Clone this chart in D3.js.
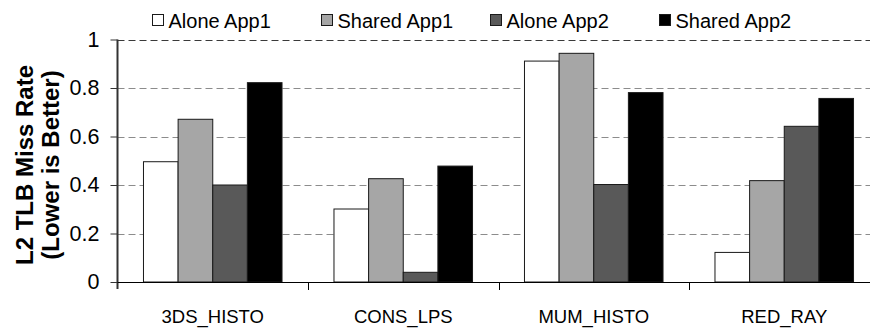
<!DOCTYPE html>
<html>
<head>
<meta charset="utf-8">
<script src="https://cdn.jsdelivr.net/npm/d3@7"></script>
<style>
  html, body { margin: 0; padding: 0; background: #fff; }
  svg { display: block; font-family: "Liberation Sans", Arial, sans-serif; }
</style>
</head>
<body>
<svg id="chart" width="870" height="331"></svg>
<script>
// Workloads on the x axis
const categories = ["3DS_HISTO", "CONS_LPS", "MUM_HISTO", "RED_RAY"];
// Series shown for each workload
const seriesNames = ["Alone App1", "Shared App1", "Alone App2", "Shared App2"];
const seriesColors = ["#ffffff", "#a6a6a6", "#595959", "#000000"];
// L2 TLB miss rate per series, in workload order
const aloneApp1  = [0.496, 0.301, 0.911, 0.122];
const sharedApp1 = [0.671, 0.426, 0.943, 0.418];
const aloneApp2  = [0.400, 0.040, 0.402, 0.642];
const sharedApp2 = [0.822, 0.478, 0.781, 0.757];
const yTicks = [0, 0.2, 0.4, 0.6, 0.8, 1];
const yTickLabels = ["0", "0.2", "0.4", "0.6", "0.8", "1"];

const values = [aloneApp1, sharedApp1, aloneApp2, sharedApp2];
const rows = categories.map((c, i) => ({
  category: c,
  bars: seriesNames.map((s, j) => ({ series: s, value: values[j][i], color: seriesColors[j] }))
}));

const svg = d3.select("#chart");
const plotLeft = 117.5, plotRight = 879.5, plotTop = 39.5, plotBottom = 282;

const x0 = d3.scaleBand().domain(categories).range([plotLeft, plotRight]).paddingInner(0).paddingOuter(0);
const x1 = d3.scaleBand().domain(seriesNames).range([0, x0.bandwidth()]).paddingInner(0).paddingOuter(0.75);
const y = d3.scaleLinear().domain([0, 1]).range([plotBottom, plotTop]);

// Dashed gridlines
svg.append("g")
  .selectAll("line")
  .data(yTicks.filter(t => t > 0))
  .join("line")
  .attr("x1", plotLeft).attr("x2", 870)
  .attr("y1", d => Math.round(y(d)) + 0.5).attr("y2", d => Math.round(y(d)) + 0.5)
  .attr("stroke", d => d === 1 ? "#3a3a3a" : "#8c8c8c")
  .attr("stroke-width", 1)
  .attr("stroke-dasharray", "7,4");

// Bars
const groups = svg.append("g")
  .selectAll("g")
  .data(rows)
  .join("g")
  .attr("transform", d => `translate(${x0(d.category)},0)`);

groups.selectAll("rect")
  .data(d => d.bars)
  .join("rect")
  .attr("x", d => x1(d.series))
  .attr("y", d => y(d.value))
  .attr("width", x1.bandwidth())
  .attr("height", d => y(0) - y(d.value))
  .attr("fill", d => d.color)
  .attr("stroke", "#1a1a1a")
  .attr("stroke-width", 1);

// Y axis
const yAxis = d3.axisLeft(y)
  .tickValues(yTicks)
  .tickFormat((d, i) => yTickLabels[i])
  .tickSize(7)
  .tickPadding(11);
const gy = svg.append("g").attr("transform", `translate(${plotLeft},0)`).call(yAxis);
gy.select(".domain").remove();
gy.selectAll(".tick line").attr("stroke", "#333");
gy.selectAll(".tick text")
  .attr("font-size", 21.5)
  .attr("fill", "#000")
  .attr("font-family", "'Liberation Sans', Arial, sans-serif");
svg.append("line")
  .attr("x1", plotLeft).attr("x2", plotLeft)
  .attr("y1", plotTop).attr("y2", plotBottom + 7)
  .attr("stroke", "#333").attr("stroke-width", 2);

// X axis with ticks at workload boundaries
svg.append("line")
  .attr("x1", plotLeft).attr("x2", 870)
  .attr("y1", plotBottom + 0.5).attr("y2", plotBottom + 0.5)
  .attr("stroke", "#000").attr("stroke-width", 1);
svg.append("g")
  .selectAll("line")
  .data(categories.slice(1))
  .join("line")
  .attr("x1", d => Math.round(x0(d)) + 0.5).attr("x2", d => Math.round(x0(d)) + 0.5)
  .attr("y1", plotBottom).attr("y2", plotBottom + 8)
  .attr("stroke", "#000");
svg.append("g")
  .selectAll("text")
  .data(categories)
  .join("text")
  .attr("x", d => x0(d) + x0.bandwidth() / 2)
  .attr("y", 323)
  .attr("text-anchor", "middle")
  .attr("font-size", 18.5)
  .text(d => d);

// Y axis title
const title = svg.append("text")
  .attr("transform", "translate(33,165) rotate(-90)")
  .attr("text-anchor", "middle")
  .attr("font-size", 24)
  .attr("font-weight", "bold");
title.append("tspan").attr("x", 0).attr("dy", 0).text("L2 TLB Miss Rate");
title.append("tspan").attr("x", 0).attr("dy", 25.5).text("(Lower is Better)");

// Legend
const legend = svg.append("g")
  .selectAll("g")
  .data(seriesNames)
  .join("g")
  .attr("transform", (d, i) => `translate(${152 + i * 169},0)`);
legend.append("rect")
  .attr("x", 0.5).attr("y", 14.5)
  .attr("width", 11).attr("height", 11)
  .attr("fill", (d, i) => seriesColors[i])
  .attr("stroke", "#1a1a1a");
legend.append("text")
  .attr("x", 16.5).attr("y", 28)
  .attr("font-size", 20)
  .text(d => d);
</script>
</body>
</html>
